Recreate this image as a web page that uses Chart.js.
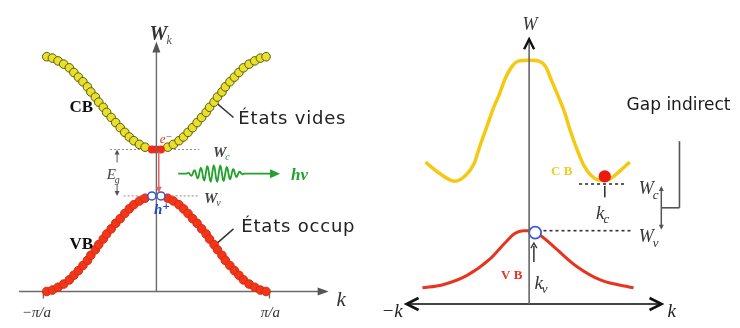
<!DOCTYPE html>
<html>
<head>
<meta charset="utf-8">
<script src="https://cdn.jsdelivr.net/npm/chart.js@4.4.0/dist/chart.umd.min.js"></script>
<style>
  html, body { margin: 0; padding: 0; background: #fff; }
  #wrap { position: relative; width: 740px; height: 328px; overflow: hidden; }
  canvas { position: absolute; top: 0; }
  #direct { left: 0; }
  #indirect { left: 370px; }
</style>
</head>
<body>
<div id="wrap">
  <canvas id="direct" width="370" height="328"></canvas>
  <canvas id="indirect" width="370" height="328"></canvas>
</div>
<script>
// ---- Direct gap (left): k in units of pi/a, energy W with W_v = 0 and W_c = 1 ----
const directK = [-0.97, -0.92, -0.87, -0.82, -0.77, -0.73, -0.69, -0.65, -0.61, -0.58, -0.54,
                 -0.51, -0.47, -0.44, -0.40, -0.36, -0.32, -0.28, -0.24, -0.20, -0.15, -0.10,
                  0.10, 0.15, 0.20, 0.24, 0.28, 0.32, 0.36, 0.40, 0.44, 0.47, 0.51,
                  0.54, 0.58, 0.61, 0.65, 0.69, 0.73, 0.77, 0.82, 0.87, 0.92, 0.97];
const directCB = [3.00, 2.97, 2.91, 2.84, 2.76, 2.66, 2.56, 2.46, 2.35, 2.24, 2.13,
                  2.02, 1.91, 1.80, 1.69, 1.58, 1.47, 1.37, 1.27, 1.19, 1.11, 1.05,
                  1.05, 1.11, 1.19, 1.27, 1.37, 1.47, 1.58, 1.69, 1.80, 1.91, 2.02,
                  2.13, 2.24, 2.35, 2.46, 2.56, 2.66, 2.76, 2.84, 2.91, 2.97, 3.00];
const directVB = [-2.06, -2.03, -1.97, -1.90, -1.81, -1.71, -1.61, -1.50, -1.39, -1.28, -1.16,
                  -1.05, -0.93, -0.82, -0.71, -0.59, -0.49, -0.38, -0.28, -0.19, -0.11, -0.05,
                  -0.05, -0.11, -0.19, -0.28, -0.38, -0.49, -0.59, -0.71, -0.82, -0.93, -1.05,
                  -1.16, -1.28, -1.39, -1.50, -1.61, -1.71, -1.81, -1.90, -1.97, -2.03, -2.06];
const electronK = [-0.04, 0.00, 0.04];
const electronW = [1.00, 1.00, 1.00];
const holeK = [-0.04, 0.04];
const holeW = [0.00, 0.00];
const directTickK = [-1, 1];
const directTickLabels = ['−π/a', 'π/a'];

// ---- Indirect gap (right): k in units of k_c, energy W with W_v = 0 ----
const cbK = [-1.37, -1.18, -0.99, -0.84, -0.73, -0.65, -0.56, -0.48, -0.39, -0.32, -0.23, -0.14, 0.00,
              0.13, 0.22, 0.30, 0.38, 0.47, 0.54, 0.63, 0.72, 0.82, 0.95, 1.06, 1.19, 1.33];
const cbW = [1.44, 1.20, 1.04, 1.16, 1.40, 1.78, 2.18, 2.54, 2.88, 3.18, 3.44, 3.56, 3.58,
             3.56, 3.44, 3.14, 2.84, 2.48, 2.12, 1.72, 1.38, 1.16, 1.06, 1.08, 1.24, 1.44];
const vbK = [-1.41, -1.15, -0.82, -0.52, -0.32, -0.19, -0.08, 0.00, 0.15, 0.37, 0.62, 0.95, 1.38];
const vbW = [-1.20, -1.14, -0.94, -0.60, -0.26, -0.06, 0.00, 0.00, -0.10, -0.40, -0.74, -1.04, -1.20];
const kcValue = 1.00, electronLevel = 1.14;
const kvValue = 0.08, holeLevel = -0.04;
const WcLevel = 0.98, WvLevel = 0.00;

const pts = (xs, ys) => xs.map((x, i) => ({ x, y: ys[i] }));
const SERIF = '"Liberation Serif", "DejaVu Serif", serif';
const SANS = '"DejaVu Sans", "Liberation Sans", sans-serif';

// ---------- small drawing helpers ----------
function seg(ctx, x1, y1, x2, y2, color, width, dash) {
  ctx.save();
  ctx.strokeStyle = color; ctx.lineWidth = width;
  ctx.setLineDash(dash || []);
  ctx.beginPath(); ctx.moveTo(x1, y1); ctx.lineTo(x2, y2); ctx.stroke();
  ctx.restore();
}
function headFilled(ctx, tx, ty, dx, dy, len, half, color) {
  const nx = -dy, ny = dx;
  ctx.save(); ctx.fillStyle = color;
  ctx.beginPath();
  ctx.moveTo(tx, ty);
  ctx.lineTo(tx - dx * len + nx * half, ty - dy * len + ny * half);
  ctx.lineTo(tx - dx * len - nx * half, ty - dy * len - ny * half);
  ctx.closePath(); ctx.fill(); ctx.restore();
}
function headOpen(ctx, tx, ty, dx, dy, len, half, color, width) {
  const nx = -dy, ny = dx;
  ctx.save(); ctx.strokeStyle = color; ctx.lineWidth = width; ctx.lineJoin = 'miter';
  ctx.beginPath();
  ctx.moveTo(tx - dx * len + nx * half, ty - dy * len + ny * half);
  ctx.lineTo(tx, ty);
  ctx.lineTo(tx - dx * len - nx * half, ty - dy * len - ny * half);
  ctx.stroke(); ctx.restore();
}
function text(ctx, str, x, y, font, color, align, spacing) {
  ctx.save();
  ctx.font = font; ctx.fillStyle = color;
  if (spacing) ctx.letterSpacing = spacing;
  ctx.textAlign = align || 'center'; ctx.textBaseline = 'middle';
  ctx.fillText(str, x, y);
  ctx.restore();
}
function subText(ctx, main, sub, x, y, fontMain, fontSub, color, subColor, dy) {
  ctx.save();
  ctx.font = fontMain;
  const w = ctx.measureText(main).width;
  ctx.restore();
  text(ctx, main, x, y, fontMain, color, 'left');
  text(ctx, sub, x + w - 1, y + (dy || 6), fontSub, subColor || color, 'left');
}

// ---------- left panel decorations ----------
const directDecor = {
  id: 'directDecor',
  beforeDatasetsDraw(chart) {
    const ctx = chart.ctx, X = v => chart.scales.x.getPixelForValue(v), Y = v => chart.scales.y.getPixelForValue(v);
    const axisW = -2.06;
    // k axis with arrow
    seg(ctx, X(-1.215), Y(axisW), X(1.50), Y(axisW), '#6a6a6a', 1.4);
    headFilled(ctx, X(1.524), Y(axisW), 1, 0, 11, 4, '#555');
    directTickK.forEach((k, i) => {
      seg(ctx, X(k), Y(axisW), X(k), Y(axisW) + 7, '#6a6a6a', 1.4);
      text(ctx, directTickLabels[i], X(k) + (k < 0 ? -7 : 1), Y(axisW) + 22, 'italic 15px ' + SERIF, '#333');
    });
    text(ctx, 'k', X(1.635), Y(-2.25), 'italic 21px ' + SERIF, '#333');
    // band-edge levels
    seg(ctx, X(-0.41), Y(1), X(0.38), Y(1), '#8c8c8c', 1, [2, 2]);
    seg(ctx, X(-0.29), Y(0), X(0.38), Y(0), '#8c8c8c', 1, [2, 2]);
    // leader lines
    seg(ctx, X(0.494), Y(2.08), X(0.682), Y(1.69), '#333', 1.5);
    seg(ctx, X(0.528), Y(-1.04), X(0.682), Y(-0.71), '#333', 1.5);
  },
  afterDatasetsDraw(chart) {
    const ctx = chart.ctx, X = v => chart.scales.x.getPixelForValue(v), Y = v => chart.scales.y.getPixelForValue(v);
    // W axis
    seg(ctx, X(0), Y(-2.06), X(0), Y(3.25), '#6a6a6a', 1.4);
    headFilled(ctx, X(0), Y(3.33), 0, -1, 11, 4, '#555');
    subText(ctx, 'W', 'k', X(-0.06), Y(3.48), 'bold italic 20px ' + SERIF, 'italic 12px ' + SERIF, '#333', '#555', 6);
    // band names
    text(ctx, 'CB', X(-0.665), Y(1.90), 'bold 17px ' + SERIF, '#111');
    text(ctx, 'VB', X(-0.665), Y(-1.04), 'bold 17px ' + SERIF, '#111');
    text(ctx, 'États vides', X(0.725), Y(1.646), '18px ' + SANS, '#222', 'left', '0.8px');
    ctx.save();
    ctx.beginPath(); ctx.rect(0, 0, 356, chart.height); ctx.clip();
    text(ctx, 'États occupés', X(0.751), Y(-0.667), '18px ' + SANS, '#222', 'left', '0.8px');
    ctx.restore();
    // gap marks
    subText(ctx, 'E', 'g', X(-0.44), Y(0.44), 'italic 15px ' + SERIF, 'italic 10px ' + SERIF, '#444', '#444', 5);
    seg(ctx, X(-0.348), Y(0.72), X(-0.348), Y(0.95), '#555', 1);
    headFilled(ctx, X(-0.348), Y(1.0), 0, -1, 5, 2.5, '#555');
    seg(ctx, X(-0.348), Y(0.26), X(-0.348), Y(0.05), '#555', 1);
    headFilled(ctx, X(-0.348), Y(0.0), 0, 1, 5, 2.5, '#555');
    subText(ctx, 'W', 'c', X(0.50), Y(0.93), 'bold italic 15px ' + SERIF, 'italic 10px ' + SERIF, '#444', '#2a9a2a', 5);
    subText(ctx, 'W', 'v', X(0.42), Y(-0.06), 'bold italic 15px ' + SERIF, 'italic 10px ' + SERIF, '#444', '#444', 5);
    // electron transition
    text(ctx, 'e⁻', X(0.085), Y(1.22), 'italic 13px ' + SERIF, '#e03020');
    seg(ctx, X(0.021), Y(0.95), X(0.021), Y(0.16), '#e86060', 1.5);
    headFilled(ctx, X(0.021), Y(0.07), 0, 1, 6, 3, '#e86060');
    text(ctx, 'h⁺', X(0.05), Y(-0.31), 'bold italic 15px ' + SERIF, '#2244cc');
    // emitted photon
    const x0 = X(0.193), x1 = X(1.094), y0 = Y(0.48);
    ctx.save();
    ctx.strokeStyle = '#22a22a'; ctx.lineWidth = 1.8;
    ctx.beginPath(); ctx.moveTo(x0, y0);
    const a = x0 + 8, b = x0 + 66;
    for (let x = x0; x <= x1 - 8; x += 0.5) {
      let y = y0;
      if (x > a && x < b) {
        const env = Math.sin(Math.PI * (x - a) / (b - a));
        y = y0 - 8 * env * Math.sin(2 * Math.PI * (x - a) / 6.5);
      }
      ctx.lineTo(x, y);
    }
    ctx.stroke(); ctx.restore();
    headFilled(ctx, x1, y0, 1, 0, 10, 4.5, '#22a22a');
    text(ctx, 'hν', X(1.266), Y(0.44), 'bold italic 17px ' + SERIF, '#22a22a');
  }
};

// ---------- right panel decorations ----------
const indirectDecor = {
  id: 'indirectDecor',
  beforeDatasetsDraw(chart) {
    const ctx = chart.ctx, X = v => chart.scales.x.getPixelForValue(v), Y = v => chart.scales.y.getPixelForValue(v);
    const axisW = -1.54;
    seg(ctx, X(-1.60), Y(axisW), X(1.73), Y(axisW), '#444', 2);
    headOpen(ctx, X(-1.62), Y(axisW), -1, 0, 12, 6, '#111', 2.6);
    headOpen(ctx, X(1.75), Y(axisW), 1, 0, 12, 6, '#111', 2.6);
    text(ctx, '−k', X(-1.81), Y(-1.70), 'italic 19px ' + SERIF, '#222');
    text(ctx, 'k', X(1.886), Y(-1.70), 'italic 19px ' + SERIF, '#222');
    // band-edge levels
    seg(ctx, X(0.66), Y(WcLevel), X(1.29), Y(WcLevel), '#333', 1.6, [3, 3]);
    seg(ctx, X(0.19), Y(WvLevel), X(1.38), Y(WvLevel), '#333', 1.6, [3, 3]);
  },
  afterDatasetsDraw(chart) {
    const ctx = chart.ctx, X = v => chart.scales.x.getPixelForValue(v), Y = v => chart.scales.y.getPixelForValue(v);
    // W axis
    seg(ctx, X(0), Y(-1.54), X(0), Y(3.98), '#666', 1.6);
    headOpen(ctx, X(0), Y(4.02), 0, -1, 10, 5, '#111', 2.4);
    text(ctx, 'W', X(0.013), Y(4.32), 'italic 18px ' + SERIF, '#333');
    // band names
    text(ctx, 'C B', X(0.43), Y(1.24), 'bold 13px ' + SERIF, '#f2cc20');
    text(ctx, 'V B', X(-0.23), Y(-0.94), 'bold 13px ' + SERIF, '#e8341e');
    // level labels
    subText(ctx, 'W', 'c', X(1.45), Y(0.86), 'italic 18px ' + SERIF, 'italic 13px ' + SERIF, '#333', '#333', 6);
    subText(ctx, 'W', 'v', X(1.45), Y(-0.14), 'italic 18px ' + SERIF, 'italic 13px ' + SERIF, '#333', '#333', 6);
    // k_c and k_v markers
    seg(ctx, X(kcValue), Y(0.94), X(kcValue), Y(0.70), '#333', 1.6);
    subText(ctx, 'k', 'c', X(0.885), Y(0.36), 'italic 19px ' + SERIF, 'italic 13px ' + SERIF, '#333', '#333', 6);
    seg(ctx, X(0.063), Y(-0.66), X(0.063), Y(-0.32), '#333', 1.5);
    headOpen(ctx, X(0.063), Y(-0.26), 0, -1, 5, 3, '#333', 1.3);
    subText(ctx, 'k', 'v', X(0.07), Y(-1.12), 'italic 19px ' + SERIF, 'italic 13px ' + SERIF, '#333', '#333', 6);
    // gap bracket
    seg(ctx, X(1.747), Y(0.88), X(1.747), Y(0.08), '#555', 1.5);
    headFilled(ctx, X(1.747), Y(0.94), 0, -1, 5, 2.5, '#555');
    headFilled(ctx, X(1.747), Y(0.02), 0, 1, 5, 2.5, '#555');
    seg(ctx, X(1.747), Y(0.48), X(1.987), Y(0.48), '#555', 1.6);
    seg(ctx, X(1.987), Y(0.48), X(1.987), Y(1.88), '#555', 1.6);
    text(ctx, 'Gap indirect', X(1.975), Y(2.62), '17px ' + SANS, '#1a1a1a');
  }
};

function baseOptions(xmin, xmax, ymin, ymax) {
  return {
    responsive: false,
    animation: false,
    events: [],
    layout: { padding: 0 },
    plugins: { legend: { display: false }, tooltip: { enabled: false } },
    scales: {
      x: { type: 'linear', display: false, min: xmin, max: xmax },
      y: { type: 'linear', display: false, min: ymin, max: ymax }
    }
  };
}

new Chart(document.getElementById('direct'), {
  type: 'scatter',
  data: {
    datasets: [
      { label: 'e⁻', data: pts(electronK, electronW), pointRadius: 4, pointBackgroundColor: '#f02a18', pointBorderColor: '#f02a18', pointBorderWidth: 0 },
      { label: 'h⁺', data: pts(holeK, holeW), pointRadius: 4, pointBackgroundColor: '#ffffff', pointBorderColor: '#3355dd', pointBorderWidth: 1.5 },
      { label: 'CB', data: pts(directK, directCB), pointRadius: 4.3, pointBackgroundColor: '#e8e02a', pointBorderColor: '#5c5a12', pointBorderWidth: 1 },
      { label: 'VB', data: pts(directK, directVB), pointRadius: 4.3, pointBackgroundColor: '#f2361a', pointBorderColor: '#d82a10', pointBorderWidth: 1 }
    ]
  },
  options: baseOptions(-1.335, 1.841, -2.729, 4.104),
  plugins: [directDecor]
});

new Chart(document.getElementById('indirect'), {
  type: 'scatter',
  data: {
    datasets: [
      { label: 'e⁻', data: [{ x: kcValue, y: electronLevel }], pointRadius: 6.2, pointBackgroundColor: '#ee1a10', pointBorderColor: '#ee1a10', pointBorderWidth: 0 },
      { label: 'h⁺', data: [{ x: kvValue, y: holeLevel }], pointRadius: 6, pointBackgroundColor: '#ffffff', pointBorderColor: '#3f5ad8', pointBorderWidth: 1.8 },
      { label: 'CB', data: pts(cbK, cbW), showLine: true, pointRadius: 0, borderColor: '#f5c912', borderWidth: 3.5, cubicInterpolationMode: 'monotone' },
      { label: 'VB', data: pts(vbK, vbW), showLine: true, pointRadius: 0, borderColor: '#e8341e', borderWidth: 3, cubicInterpolationMode: 'monotone' }
    ]
  },
  options: baseOptions(-2.0, 2.684, -1.88, 4.68),
  plugins: [indirectDecor]
});
</script>
</body>
</html>
